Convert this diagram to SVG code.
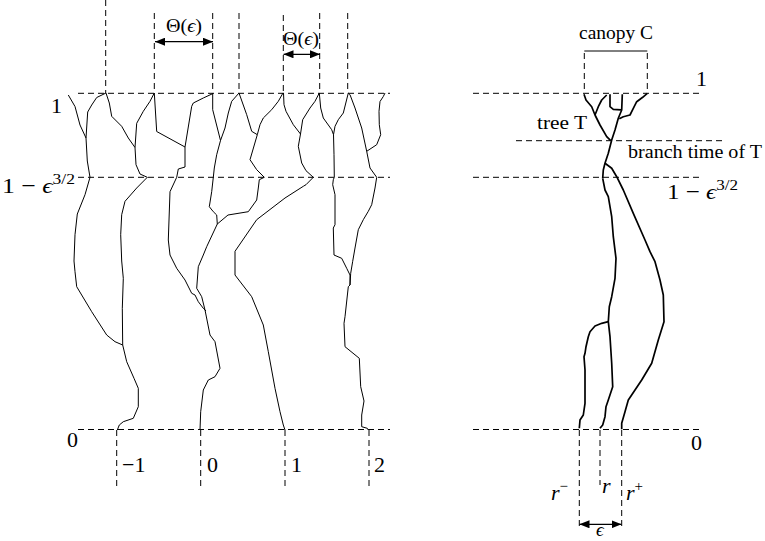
<svg xmlns="http://www.w3.org/2000/svg" width="765" height="541" viewBox="0 0 765 541">
<defs>
<marker id="ah" viewBox="0 0 10 8" refX="10" refY="4" markerWidth="10" markerHeight="8" markerUnits="userSpaceOnUse" orient="auto-start-reverse">
<path d="M0,0 L10,4 L0,8 Z" fill="#000"/>
</marker>
</defs>
<style>
.d{stroke:#000;stroke-width:1;stroke-dasharray:6,4;fill:none}
.p{stroke:#000;stroke-width:1;fill:none;stroke-linejoin:round}
.q{stroke:#000;stroke-width:1.7;fill:none;stroke-linejoin:round}
.a{stroke:#000;stroke-width:1.3;fill:none;marker-start:url(#ah);marker-end:url(#ah)}
text{font-family:"Liberation Serif","DejaVu Serif",serif;fill:#000}
.t{font-size:22px}
.s{font-size:19px}
.i{font-style:italic}
</style>
<rect width="765" height="541" fill="#fff"/>

<g id="grid-left">
<line class="d" x1="78" y1="93.3" x2="390" y2="93.3"/>
<line class="d" x1="78" y1="177.3" x2="390" y2="177.3"/>
<line class="d" x1="78" y1="429.5" x2="390" y2="429.5"/>
<line class="d" x1="105.7" y1="0" x2="105.7" y2="93"/>
<line class="d" x1="154.3" y1="13" x2="154.3" y2="93"/>
<line class="d" x1="212.7" y1="13" x2="212.7" y2="93"/>
<line class="d" x1="239" y1="13" x2="239" y2="93"/>
<line class="d" x1="283.3" y1="15" x2="283.3" y2="93"/>
<line class="d" x1="319.7" y1="13" x2="319.7" y2="93"/>
<line class="d" x1="347.7" y1="13" x2="347.7" y2="93"/>
<line class="d" x1="116.7" y1="430" x2="116.7" y2="487"/>
<line class="d" x1="200.7" y1="430" x2="200.7" y2="487"/>
<line class="d" x1="285" y1="430" x2="285" y2="487"/>
<line class="d" x1="369" y1="430" x2="369" y2="487"/>
</g>

<g id="labels-left">
<text class="t" x="51" y="113">1</text>
<text class="t" x="2" y="193" textLength="73" lengthAdjust="spacingAndGlyphs">1 − <tspan class="i">ϵ</tspan><tspan font-size="15" dy="-9">3/2</tspan></text>
<text class="t" x="67" y="447">0</text>
<text class="t" x="122" y="472">−1</text>
<text class="t" x="207" y="472">0</text>
<text class="t" x="291" y="472">1</text>
<text class="t" x="374" y="472">2</text>
<text class="s" x="166" y="32" textLength="36" lengthAdjust="spacingAndGlyphs">Θ(<tspan class="i">ϵ</tspan>)</text>
<text class="s" x="283" y="45" textLength="36" lengthAdjust="spacingAndGlyphs">Θ(<tspan class="i">ϵ</tspan>)</text>
</g>

<g id="paths-left">
<polyline class="p" points="68.3,95 75,106.5 80,125 86,138"/>
<polyline class="p" points="106,93 96.7,97.5 91.7,105 87.7,112 86,138 87.3,161 90,177.3"/>
<polyline class="p" points="106,93 109.3,103 111.7,116.3 121.7,126.3 128.3,138 135,147.5"/>
<polyline class="p" points="154.3,93 150,101.3 143.3,111.3 136.7,123.3 135,147.5 136,164.7 140,174 147.3,177.3"/>
<polyline class="p" points="154.3,93 156.7,131.5 185,147"/>
<polyline class="p" points="213,93.5 203.3,98 193.3,103 191.7,106.3 185,147 185,167 178.3,169 176.7,177.3"/>
<polyline class="p" points="212.7,93 212.7,109.7 220.5,140.5"/>
<polyline class="p" points="239,93 231.7,101.3 228.3,113 225,128 220.5,140.5 216.7,154.7 214.3,168 213.3,177.3"/>
<polyline class="p" points="239,93 246.7,114.7 251.7,131.3 257.3,134.7"/>
<polyline class="p" points="283,93 278.3,101.3 271.7,109.7 263.3,118 260,124.7 257.3,134.7 250,159.7 256.7,169.7 264.3,177.3"/>
<polyline class="p" points="283.5,93 284,104.7 286,111.3 293.3,124.7 300.5,134"/>
<polyline class="p" points="319.3,93 315,101.3 310,108 302.7,119.7 300.5,134 298.3,146.3 301.7,163 306,170.7 313.3,177.3"/>
<polyline class="p" points="319.3,93 320.7,108 323.3,118 331.7,129.7 333.5,134.7"/>
<polyline class="p" points="348.3,93 343.3,113 338.3,119.7 335,126.3 333.5,134.7 334,154.7 334.3,177.3"/>
<polyline class="p" points="348.3,93 350,94.7 355,108 361.7,128 366.7,151.3 370,168 376.7,177.3"/>
<polyline class="p" points="385,93 383.3,96.5 380,101.5 379,111.3 379.3,124.7 380.7,134.7 376.7,144.7 366.7,151.3"/>

<polyline class="p" points="90,177.3 85,194.7 77.3,214 75,234.7 74,261 75,271.7 76.7,286.7 91.7,311.7 106.7,335 115,341.7 122.7,345"/>
<polyline class="p" points="147.3,177.3 136.7,188 125,201.3 121.7,214.7 120.7,234.7 121.7,261 123.3,278.3 122.3,308.3 122.7,345 126.7,361.7 134,378.3 138.3,388.3 138.3,406.7 133.3,418.3 123.3,421.7 119.3,425 117.3,430"/>
<polyline class="p" points="176.7,177.3 170,191.7 168.3,240 170,255 176.7,268.3 185,280 191.7,293.3 195,295 198.3,301.7 203.3,308.3 206,311"/>
<polyline class="p" points="213.3,177.3 211.7,191.7 209.3,206.7 213.3,211.7 216.7,215 217.3,224"/>
<polyline class="p" points="264.3,177.3 259.3,179.7 258.3,188 256.7,200 248.3,211.7 228,215 217.3,224 206.7,246.7 203.3,255 198.3,266.7 196.7,288.3 201.7,296.7 205,310 210,335 215,341.7 220,368.3 215,376.7 208.3,380 203.3,390 200.7,411.7 200,430"/>
<polyline class="p" points="313.3,177.3 306,184.7 303.3,186.3 285,198 256.7,219.7 235,251.3 235,275 251.7,296.7 263.3,325 268.3,351.7 275,388.3 280,411.7 283.3,425 285,430"/>
<polyline class="p" points="334.3,177.3 333.3,179.7 332.7,184.7 335,194.7 335,224.7 333.3,228 334,255 341.7,258.3 346.7,268.3 350,275 350,285"/>
<polyline class="p" points="376.7,177.3 375,188 371.7,204.7 368.3,211.3 363.3,219.7 358.3,229.7 355,248 352.7,261.3 350.7,273.3 350,285 348.3,286.7 345,316.7 344,323.3 345,346.7 359.3,358.3 360.7,386.7 364,401 361.7,415 361.7,426.7 367.3,428.3 368.3,430"/>
</g>

<g id="connectors">
<line class="a" x1="155" y1="41.7" x2="213" y2="41.7"/>
<line class="a" x1="283.5" y1="54.3" x2="320" y2="54.3"/>
<line class="a" x1="579.5" y1="524.3" x2="621.5" y2="524.3"/>
</g>

<g id="grid-right">
<line class="d" x1="473" y1="93.3" x2="700" y2="93.3"/>
<line class="d" x1="516" y1="140.7" x2="723" y2="140.7"/>
<line class="d" x1="473" y1="177.3" x2="700" y2="177.3"/>
<line class="d" x1="473" y1="429.5" x2="700" y2="429.5"/>
<line class="d" x1="584.3" y1="53" x2="584.3" y2="93"/>
<line class="d" x1="647.3" y1="53" x2="647.3" y2="93"/>
<line stroke="#000" stroke-width="1" x1="584.3" y1="51" x2="647.3" y2="51"/>
<line class="d" x1="579.3" y1="430" x2="579.3" y2="530"/>
<line class="d" x1="600" y1="430" x2="600" y2="485"/>
<line class="d" x1="621.7" y1="430" x2="621.7" y2="530"/>
</g>

<g id="labels-right">
<text class="s" x="579" y="39" textLength="74" lengthAdjust="spacingAndGlyphs">canopy C</text>
<text class="t" x="696" y="86">1</text>
<text class="s" x="537" y="129" textLength="50" lengthAdjust="spacingAndGlyphs">tree T</text>
<text class="s" x="628" y="158" textLength="134" lengthAdjust="spacingAndGlyphs">branch time of T</text>
<text class="t" x="667" y="199" textLength="71" lengthAdjust="spacingAndGlyphs">1 − <tspan class="i">ϵ</tspan><tspan font-size="15" dy="-9">3/2</tspan></text>
<text class="t" x="691" y="450">0</text>
<text class="t i" x="551" y="500">r<tspan font-style="normal" font-size="15" dy="-9">−</tspan></text>
<text class="t i" x="602" y="493">r</text>
<text class="t i" x="626" y="500">r<tspan font-style="normal" font-size="15" dy="-9">+</tspan></text>
<text class="s i" x="596" y="536">ϵ</text>
</g>

<g id="tree-right">
<polyline class="q" points="584,94.3 586,100 591.7,106.7 595,115 600,125 606.7,136.7 610.7,140.7"/>
<polyline class="q" points="595,115 598.3,106.7 601.7,100 606.7,95"/>
<polyline class="q" points="610,94.3 610,106.7 613.3,109.3 621,109.8"/>
<polyline class="q" points="622.3,94.3 621.7,110 618.3,118.3 615,130 611.7,140 608.3,153.3 605,163.3 603.3,170 602.7,178.3"/>
<polyline class="q" points="647.3,93.3 642.7,97.3 636.7,101.7 633.3,108.3 630,115 623.3,116.7 619.3,118.7"/>
<polyline class="q" points="605,163.3 611.7,168.3 616.7,176.7 623.3,190 633.3,213.3 645,240 650,251.7 655,261.7 660,280 663.3,295 664,321.7 658.3,340 651.7,363.3 641.7,380 635,390 628.3,400 625,411.7 621.7,423.3 621.7,429.3"/>
<polyline class="q" points="602.7,178.3 605,190 608.3,196.7 611.7,216.7 613.3,236.7 616,258.3 615,278.3 611.7,296.7 609.3,306.7 608.3,321.7 610,336.7 611.7,363.3 612.7,386.7 608.3,400 606,406.7 605,416.7 602.7,425 600,428.3"/>
<polyline class="q" points="608.3,321.7 601.7,323.3 595,326 590,331.7 588.3,336.7 586,346.7 585,353.3 584,356.7 585,370 585,403.3 583.3,415 580,420 579.3,428.3"/>
</g>
</svg>
